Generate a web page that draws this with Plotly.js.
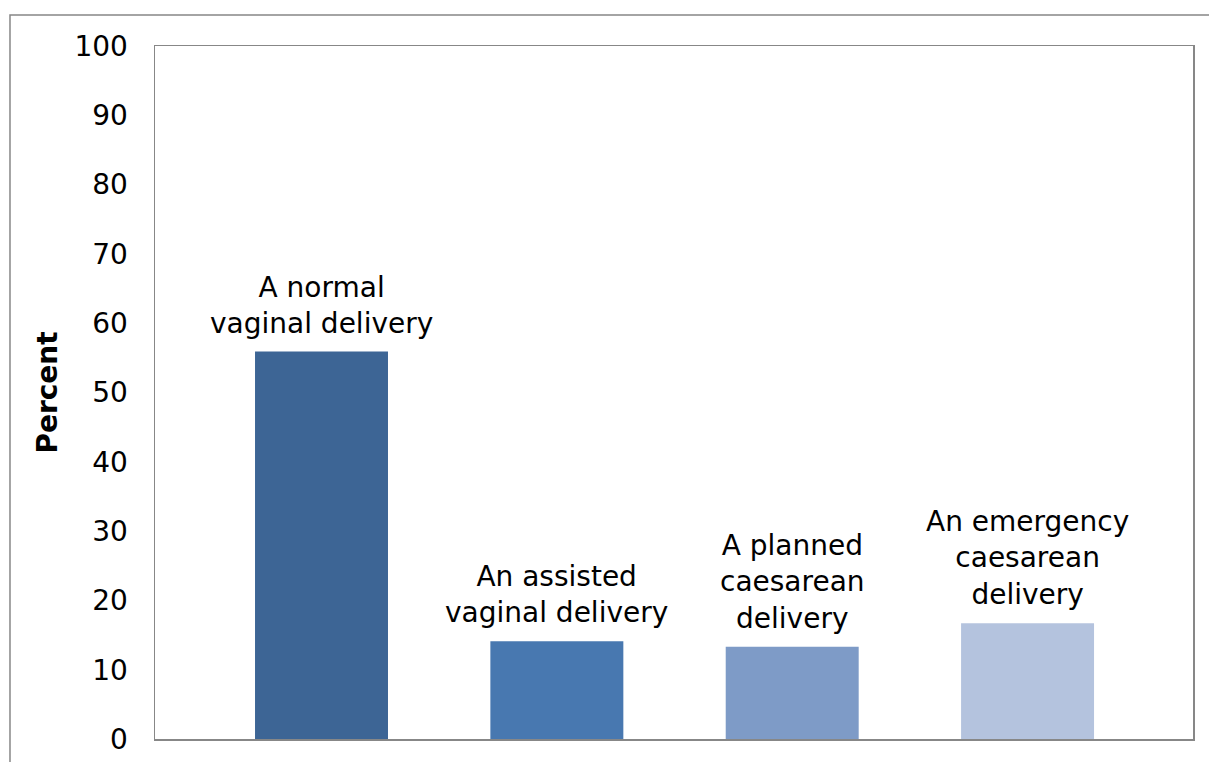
<!DOCTYPE html>
<html>
<head>
<meta charset="utf-8">
<script src="https://cdn.plot.ly/plotly-3.0.1.min.js"></script>
<style>
  html, body { margin: 0; padding: 0; background: #ffffff; }
  #chart { width: 1209px; height: 762px; }
</style>
</head>
<body>
<div id="chart"></div>
<script>
// Mode of delivery, share of births (percent)
const categories = [
  'A normal vaginal delivery',
  'An assisted vaginal delivery',
  'A planned caesarean delivery',
  'An emergency caesarean delivery'
];
const labelText = [
  'A normal<br>vaginal delivery',
  'An assisted<br>vaginal delivery',
  'A planned<br>caesarean<br>delivery',
  'An emergency<br>caesarean<br>delivery'
];
const percents = [55.9, 14.1, 13.3, 16.7];
const yTicks = [0, 10, 20, 30, 40, 50, 60, 70, 80, 90, 100];
const yTitle = 'Percent';

const barColors = ['#3d6595', '#4878b0', '#7e9bc7', '#b4c3de'];
const frameGray = '#878787';
const textFont = { family: 'DejaVu Sans, Liberation Sans, Arial, sans-serif', size: 28, color: '#000000' };

const trace = {
  type: 'bar',
  x: categories,
  y: percents,
  marker: { color: barColors, line: { width: 0 } },
  hoverinfo: 'x+y'
};

// Category names sit just above each bar
const annotations = categories.map((c, i) => ({
  x: c,
  y: percents[i],
  xref: 'x',
  yref: 'y',
  text: labelText[i],
  showarrow: false,
  xanchor: 'center',
  yanchor: 'bottom',
  yshift: 10,
  align: 'center',
  font: textFont
}));

const layout = {
  width: 1209,
  height: 762,
  margin: { l: 155, r: 16, t: 46, b: 23, pad: 0 },
  paper_bgcolor: '#ffffff',
  plot_bgcolor: '#ffffff',
  showlegend: false,
  bargap: 0.435,
  xaxis: {
    type: 'category',
    range: [-0.7075, 3.703],
    showticklabels: false,
    ticks: '',
    showgrid: false,
    zeroline: false,
    showline: true,
    mirror: true,
    linecolor: frameGray,
    linewidth: 1.5,
    fixedrange: true
  },
  yaxis: {
    range: [0, 100],
    tickvals: yTicks,
    ticktext: yTicks.map(String),
    ticks: '',
    ticklabelstandoff: 20,
    tickfont: textFont,
    showgrid: false,
    zeroline: false,
    showline: true,
    mirror: true,
    linecolor: frameGray,
    linewidth: 1.5,
    title: {
      text: yTitle,
      font: { family: 'DejaVu Sans, Liberation Sans, Arial, sans-serif', size: 28, color: '#000000', weight: 'bold' },
      standoff: 8
    },
    automargin: false,
    fixedrange: true
  },
  annotations: annotations,
  shapes: [
    {
      // outer chart frame (top and left edges)
      type: 'path',
      xref: 'paper',
      yref: 'paper',
      path: 'M -0.1397,-0.06 L -0.1397,1.0447 L 1.03,1.0447',
      line: { color: frameGray, width: 1.5 },
      layer: 'below'
    }
  ]
};

Plotly.newPlot('chart', [trace], layout, { displayModeBar: false, staticPlot: true });
</script>
</body>
</html>
